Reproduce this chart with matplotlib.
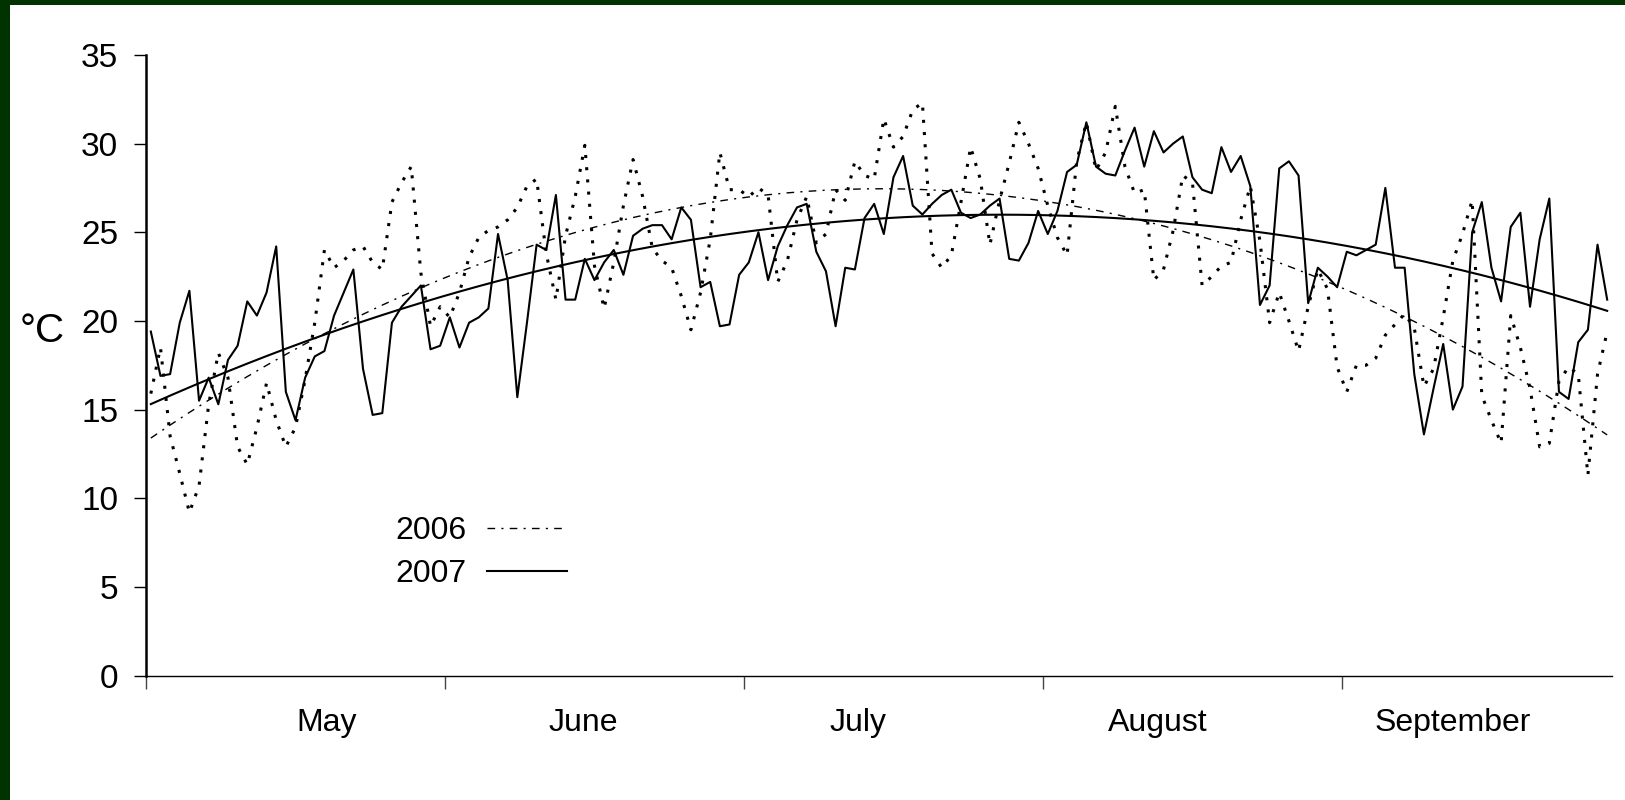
import matplotlib
matplotlib.use('Agg')
import matplotlib.pyplot as plt
from matplotlib.patches import Rectangle
import numpy as np

plt.rcParams['font.family'] = ['Liberation Sans', 'DejaVu Sans']

# daily mean temperature, 1 May .. 29 Sep
t2006 = [15.9, 18.5, 13.5, 11.4, 9.2, 10.7, 15.3, 18.2, 16.8, 12.9, 11.9, 14.0, 16.5, 14.4, 12.9, 14.0, 16.7, 19.9, 24.0,
         23.0, 23.4, 24.0, 24.2, 23.3, 22.9, 26.7, 27.8, 28.7, 22.7, 19.7, 20.8, 20.2, 21.6, 23.6, 24.7, 25.1, 25.3,
         25.7, 26.4, 27.6, 28.0, 23.8, 21.2, 24.8, 27.0, 29.9, 23.1, 20.7, 23.3, 26.5, 29.1, 27.0, 24.1, 23.4, 23.0, 21.4, 19.5,
         21.6, 24.6, 29.5, 27.4, 27.4, 27.0, 27.5, 27.1, 22.2, 23.4, 25.7, 27.0, 24.4, 24.9, 27.4, 26.8, 29.0, 28.2,
         28.0, 31.4, 29.8, 30.4, 31.9, 32.3, 23.8, 23.0, 23.7, 26.7, 29.8, 28.0, 24.3, 26.8, 28.9, 31.2, 30.0, 28.6, 26.5,
         24.7, 23.7, 29.0, 31.2, 28.5, 29.5, 32.1, 28.7, 27.2, 27.4, 22.3, 22.9, 25.1, 28.2, 27.8, 22.0, 22.5, 23.1,
         23.3, 25.7, 27.6, 24.5, 19.9, 21.6, 20.0, 18.3, 20.8, 22.9, 21.8, 17.4, 16.0, 17.5, 17.5, 17.9, 19.2, 19.8, 20.4,
         19.6, 16.3, 17.3, 20.2, 23.4, 24.9, 26.8, 15.8, 14.4, 13.1, 20.3, 18.5, 16.2, 12.9, 13.1, 16.6, 17.4, 17.0, 11.3, 17.0, 19.4]

t2007 = [19.4, 16.9, 17.0, 19.9, 21.7, 15.5, 16.8, 15.3, 17.8, 18.6, 21.1, 20.3, 21.6, 24.2, 16.0, 14.4, 16.8, 18.0, 18.3,
         20.3, 21.6, 22.9, 17.3, 14.7, 14.8, 19.9, 20.8, 21.4, 22.0, 18.4, 18.6, 20.2, 18.5, 19.9, 20.2, 20.7, 24.9, 22.3,
         15.7, 19.9, 24.3, 24.0, 27.1, 21.2, 21.2, 23.5, 22.3, 23.3, 24.0, 22.6, 24.8, 25.2, 25.4, 25.4, 24.6, 26.4, 25.7,
         21.9, 22.2, 19.7, 19.8, 22.6, 23.3, 25.0, 22.3, 24.2, 25.4, 26.4, 26.6, 23.9, 22.8, 19.7, 23.0, 22.9, 25.8,
         26.6, 24.9, 28.1, 29.3, 26.5, 26.0, 26.6, 27.1, 27.4, 26.1, 25.8, 26.0, 26.5, 26.9, 23.5, 23.4, 24.4, 26.2, 24.9,
         26.2, 28.4, 28.8, 31.2, 28.7, 28.3, 28.2, 29.6, 30.9, 28.7, 30.7, 29.5, 30.0, 30.4, 28.1, 27.4, 27.2, 29.8,
         28.4, 29.3, 27.6, 20.9, 22.0, 28.6, 29.0, 28.2, 21.0, 23.0, 22.5, 21.9, 23.9, 23.7, 24.0, 24.3, 27.5, 23.0, 23.0,
         17.0, 13.6, 16.2, 18.7, 15.0, 16.3, 25.0, 26.7, 23.0, 21.1, 25.3, 26.1, 20.8, 24.6, 26.9, 16.0, 15.6, 18.8, 19.5, 24.3, 21.2]

months = ['May', 'June', 'July', 'August', 'September']
month_label_pos = [18.2, 44.8, 73.3, 104.4, 135.0]
tick_every = 31

x = np.arange(len(t2006))
trend2006 = np.polyval(np.polyfit(x, t2006, 2), x)
trend2007 = np.polyval(np.polyfit(x, t2007, 2), x)

fig = plt.figure(figsize=(16.25, 8), dpi=100, facecolor='#003300')
fig.add_artist(Rectangle((10 / 1625, 0), 1, 1 - 5 / 800, transform=fig.transFigure,
                         facecolor='white', edgecolor='none', zorder=-10))
ax = fig.add_axes([146 / 1625, 1 - 675.6 / 800, (1612 - 146) / 1625, (675.6 - 54.9) / 800])
ax.set_facecolor('white')
ax.set_zorder(1)

ax.plot(x, t2006, color='black', lw=2.2, linestyle=(0, (1.0, 3.0)))
ax.plot(x, t2007, color='black', lw=1.5, linestyle='-')
l06, = ax.plot(x, trend2006, color='black', lw=1.0, linestyle=(0, (5.5, 4.5, 1.5, 4.5)))
l07, = ax.plot(x, trend2007, color='black', lw=1.5, linestyle='-')

ax.set_xlim(-0.5, len(x) - 0.5)
ax.set_ylim(0, 35)
ax.set_yticks(range(0, 36, 5))
ax.set_xticks(np.arange(-0.5, len(x) - 1, tick_every))
ax.set_xticklabels([])
ax.set_xticks(month_label_pos, minor=True)
ax.set_xticklabels(months, minor=True)
ax.tick_params(axis='x', which='major', length=9, width=1, color='#444444', direction='out')
ax.tick_params(axis='x', which='minor', length=0, pad=23, labelsize=23)
ax.tick_params(axis='y', length=9, width=1, labelsize=24, pad=11)

for s in ['top', 'right']:
    ax.spines[s].set_visible(False)
ax.spines['left'].set_linewidth(1.8)
ax.spines['bottom'].set_linewidth(1.0)

ax.set_ylabel('°C', rotation=0, fontsize=29, va='center', ha='center')
ax.yaxis.set_label_coords(-0.071, 0.555)

ax.legend([l06, l07], ['2006', '2007'], markerfirst=False, frameon=False, fontsize=23,
          handlelength=2.5, handletextpad=0.65, labelspacing=0.4, borderpad=0, borderaxespad=0,
          loc='upper left', bbox_to_anchor=(395 / 1625, 1 - 516 / 800), bbox_transform=fig.transFigure)

plt.savefig('out.png', dpi=100, facecolor=fig.get_facecolor())
